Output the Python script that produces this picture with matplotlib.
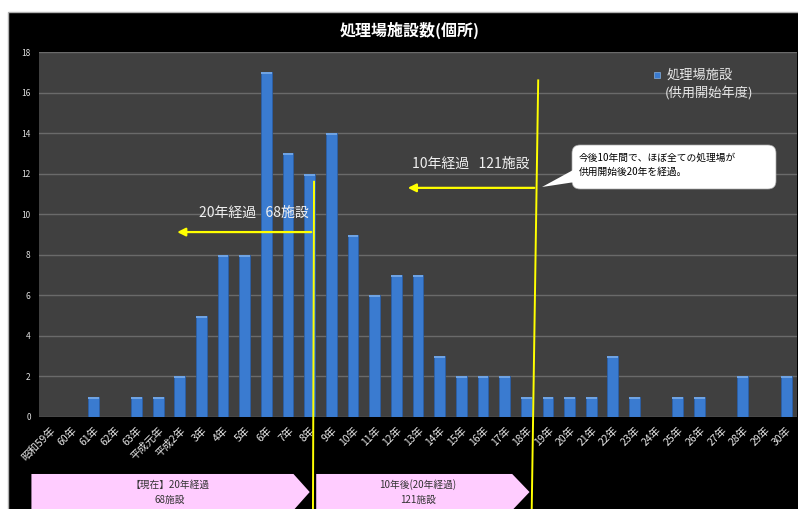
import numpy as np
import matplotlib
matplotlib.use("Agg")
import matplotlib.pyplot as plt
from matplotlib.patches import Rectangle, Polygon, FancyBboxPatch

plt.rcParams['font.family'] = ['Noto Sans CJK JP', 'DejaVu Sans']

# 供用開始年度ごとの処理場数
years = ['昭和59年', '60年', '61年', '62年', '63年', '平成元年', '平成2年'] + \
        ['%d年' % y for y in range(3, 31)]
counts = [0, 0, 1, 0, 1, 1, 2, 5, 8, 8, 17, 13, 12, 14, 9, 6, 7, 7, 3, 2, 2, 2,
          1, 1, 1, 1, 3, 1, 0, 1, 1, 0, 2, 0, 2]
yticks = list(range(0, 19, 2))

W, H = 798, 509
fig = plt.figure(figsize=(W / 100, H / 100), dpi=100, facecolor='white')

# 黒い枠
fig.patches.append(Rectangle((8 / W, -0.01), (W - 8) / W + 0.01, (H - 12) / H + 0.01,
                             transform=fig.transFigure, facecolor='black',
                             edgecolor='#b0b0b0', linewidth=1, zorder=-10))

ax = fig.add_axes([39 / W, (H - 417) / H, (797 - 39) / W, (417 - 52) / H])
ax.set_facecolor('#404040')
x = np.arange(len(years))
ax.bar(x, counts, width=0.5, color='#3a7bd0', edgecolor='#2b5fa6',
       linewidth=0.6, zorder=3)
# 上面のハイライト
cap = 0.1
ax.bar(x, [cap if c > 0 else 0 for c in counts], bottom=[c - cap for c in counts],
       width=0.5, color='#6fa3e3', linewidth=0, zorder=4)

ax.set_xlim(-0.5, len(years) - 0.5)
ax.set_ylim(0, 18)
ax.set_yticks(yticks)
ax.set_yticklabels([str(v) for v in yticks], fontsize=6, color='#e0e0e0')
ax.set_xticks(x)
ax.set_xticklabels(years, rotation=45, ha='right', va='top', rotation_mode='anchor',
                   fontsize=7.5, color='#e8e8e8')
ax.tick_params(length=0, pad=6)
ax.grid(axis='y', color='#6a6a6a', linewidth=1, zorder=0)
for s in ax.spines.values():
    s.set_visible(False)

fig.text(410 / W, 1 - 30 / H, '処理場施設数(個所)', ha='center', va='center',
         fontsize=11.5, fontweight='bold', color='white')

# 凡例
ax.scatter([0.815], [0.937], marker='s', s=14, color='#3a7bd0', edgecolors='#9cc4f0',
           linewidths=0.4, transform=ax.transAxes, clip_on=False, zorder=5)
ax.text(0.828, 0.937, '処理場施設', transform=ax.transAxes, fontsize=9.5,
        color='#e8e8e8', va='center', ha='left')
ax.text(0.826, 0.885, '(供用開始年度)', transform=ax.transAxes, fontsize=9.5,
        color='#e8e8e8', va='center', ha='left')

# 黄色の区切り線と矢印
yel = '#ffff00'
ax.plot([12.2, 12.15], [11.6, -4.6], color=yel, lw=1.4, clip_on=False, zorder=6)
ax.plot([22.55, 22.25], [16.6, -4.6], color=yel, lw=1.4, clip_on=False, zorder=6)
ax.annotate('', xy=(5.75, 9.12), xytext=(12.2, 9.12),
            arrowprops=dict(arrowstyle='-|>', color=yel, lw=1.6, mutation_scale=12),
            zorder=6)
ax.annotate('', xy=(16.4, 11.3), xytext=(22.5, 11.3),
            arrowprops=dict(arrowstyle='-|>', color=yel, lw=1.6, mutation_scale=12),
            zorder=6)
ax.text(9.4, 10.06, '20年経過   68施設', ha='center', va='center', fontsize=10,
        color='#f0f0f0', zorder=6)
ax.text(19.45, 12.5, '10年経過   121施設', ha='center', va='center', fontsize=10,
        color='#f0f0f0', zorder=6)

# 吹き出し(インチ座標)
inch = fig.dpi_scale_trans
fig.patches.append(FancyBboxPatch((5.72, 3.20), 2.04, 0.44,
                                  boxstyle='round,pad=0,rounding_size=0.08',
                                  transform=inch, facecolor='white',
                                  edgecolor='#aaaaaa', linewidth=0.5, zorder=7))
fig.patches.append(Polygon([[5.42, 3.22], [5.75, 3.27], [5.75, 3.40]], closed=True,
                           transform=inch, facecolor='white', edgecolor='none',
                           zorder=7.5))
fig.text(5.79, 3.51, '今後10年間で、ほぼ全ての処理場が', transform=inch,
         ha='left', va='center', fontsize=7, color='black', zorder=8)
fig.text(5.79, 3.37, '供用開始後20年を経過。', transform=inch,
         ha='left', va='center', fontsize=7, color='black', zorder=8)

# 下部のピンク矢印
pink = '#ffccff'
ax.add_patch(Polygon([[-0.85, -2.81], [11.25, -2.81], [12.0, -3.7], [11.25, -4.6],
                      [-0.85, -4.6]], closed=True, facecolor=pink, edgecolor='none',
                     clip_on=False, zorder=2))
ax.add_patch(Polygon([[12.3, -2.81], [21.35, -2.81], [22.15, -3.7], [21.35, -4.6],
                      [12.3, -4.6]], closed=True, facecolor=pink, edgecolor='none',
                     clip_on=False, zorder=2))
ax.text(5.55, -3.35, '【現在】20年経過', ha='center', va='center', fontsize=7,
        color='#333333')
ax.text(5.55, -4.1, '68施設', ha='center', va='center', fontsize=7, color='#333333')
ax.text(17.0, -3.35, '10年後(20年経過)', ha='center', va='center', fontsize=7,
        color='#333333')
ax.text(17.0, -4.1, '121施設', ha='center', va='center', fontsize=7, color='#333333')

fig.savefig('out.png', dpi=100, facecolor='white')
